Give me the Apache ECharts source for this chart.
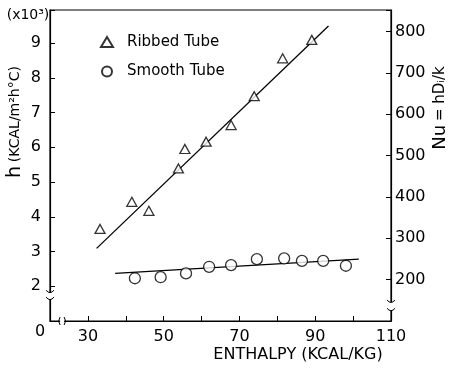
<!DOCTYPE html>
<html>
<head>
<meta charset="utf-8">
<script src="https://cdn.jsdelivr.net/npm/echarts@6/dist/echarts.min.js"></script>
<style>
  html, body { margin: 0; padding: 0; background: #fff; }
  #main { width: 452px; height: 374px; }
</style>
</head>
<body>
<div id="main"></div>
<script>
// values
const ribbedEnthalpy = [33.2, 41.6, 46.1, 53.9, 55.6, 61.2, 67.8, 73.9, 81.4, 89.1];
const ribbedH = [3.65, 4.43, 4.17, 5.39, 5.95, 6.16, 6.64, 7.47, 8.56, 9.09];
const smoothEnthalpy = [42.4, 49.2, 55.9, 62.0, 67.8, 74.6, 81.8, 86.5, 92.1, 98.1];
const smoothH = [2.23, 2.26, 2.37, 2.56, 2.61, 2.78, 2.80, 2.73, 2.73, 2.59];
// hand-drawn fit lines (end points)
const ribbedFitX = [32.3, 93.5];
const ribbedFitH = [3.09, 9.49];
const smoothFitX = [37.2, 101.5];
const smoothFitH = [2.37, 2.78];
// tick labels
const xTickLabels = [30, 50, 70, 90, 110];
const hTickLabels = [2, 3, 4, 5, 6, 7, 8, 9];
const nuTickLabels = [200, 300, 400, 500, 600, 700, 800];

const FONT = "DejaVu Sans";
const pairs = (xs, ys) => xs.map((x, i) => [x, ys[i]]);

const chart = echarts.init(document.getElementById("main"));

const option = {
  backgroundColor: "#fff",
  animation: false,
  textStyle: { fontFamily: FONT, color: "#000" },
  grid: {
    left: 50, right: 61, top: 10, bottom: 53,
    show: true, borderColor: "#000", borderWidth: 1.2,
  },
  legend: {
    data: ["Ribbed Tube", "Smooth Tube"],
    orient: "vertical",
    left: 100, top: 34,
    padding: 0,
    itemWidth: 12, itemHeight: 10, itemGap: 13.5,
    textStyle: { fontSize: 15, lineHeight: 16, color: "#000", padding: [0, 0, 0, 9] },
  },
  xAxis: {
    type: "value",
    min: 20, max: 110, interval: 10,
    axisLine: { lineStyle: { color: "#000", width: 1.2 } },
    axisTick: { inside: true, length: 5, lineStyle: { color: "#000" } },
    axisLabel: {
      margin: 8, fontSize: 16, color: "#000",
      formatter: (v) => (xTickLabels.includes(v) ? String(v) : ""),
    },
    splitLine: { show: false },
  },
  yAxis: [
    {
      type: "value",
      min: 1, max: 9.95, interval: 1,
      axisLine: { show: true, lineStyle: { color: "#000", width: 1.2 } },
      axisTick: { show: true, inside: true, length: 5, lineStyle: { color: "#000" } },
      axisLabel: {
        margin: 9, fontSize: 16, color: "#000",
        formatter: (v) => (hTickLabels.includes(v) ? String(v) : ""),
      },
      splitLine: { show: false },
    },
    {
      type: "value",
      position: "right",
      min: 100, max: 852, interval: 100,
      axisLine: { show: true, lineStyle: { color: "#000", width: 1.2 } },
      axisTick: { show: true, inside: true, length: 5, lineStyle: { color: "#000" } },
      axisLabel: {
        margin: 4, fontSize: 16, color: "#000",
        formatter: (v) => (nuTickLabels.includes(v) ? String(v) : ""),
      },
      splitLine: { show: false },
    },
  ],
  series: [
    {
      type: "line",
      data: pairs(ribbedFitX, ribbedFitH),
      showSymbol: false,
      lineStyle: { color: "#000", width: 1.3 },
      silent: true,
    },
    {
      type: "line",
      data: pairs(smoothFitX, smoothFitH),
      showSymbol: false,
      lineStyle: { color: "#000", width: 1.3 },
      silent: true,
    },
    {
      name: "Ribbed Tube",
      type: "scatter",
      data: pairs(ribbedEnthalpy, ribbedH),
      symbol: "triangle",
      symbolSize: [10, 9],
      itemStyle: { color: "#fff", borderColor: "#000", borderWidth: 1.3 },
      z: 3,
    },
    {
      name: "Smooth Tube",
      type: "scatter",
      data: pairs(smoothEnthalpy, smoothH),
      symbol: "circle",
      symbolSize: 11,
      itemStyle: { color: "#fff", borderColor: "#000", borderWidth: 1.3 },
      z: 3,
    },
  ],
};

chart.setOption(option);

// axis breaks, origin label and axis titles
const xPx = (v) => chart.convertToPixel({ xAxisIndex: 0 }, v);
const hPx = (v) => chart.convertToPixel({ yAxisIndex: 0 }, v);
const nuPx = (v) => chart.convertToPixel({ yAxisIndex: 1 }, v);

const leftX = xPx(20), rightX = xPx(110), baseY = hPx(1);
const curve = (x1, y1, cx, cy, x2, y2) => ({
  type: "bezierCurve",
  shape: { x1, y1, cpx1: cx, cpy1: cy, x2, y2 },
  style: { stroke: "#000", fill: null, lineWidth: 1 },
  z: 10,
});
const blank = (x, y, w, h) => ({
  type: "rect", shape: { x, y, width: w, height: h },
  style: { fill: "#fff" }, z: 9,
});

const xb = xPx(23.2);
const lT = hPx(1.83), lB = hPx(1.63);
const rT = nuPx(146), rB = nuPx(126);

chart.setOption({
  graphic: [
    // x axis break
    blank(xb - 2, baseY - 3, 4, 6),
    curve(xb - 2, baseY - 4, xb - 5, baseY, xb - 2, baseY + 4),
    curve(xb + 2, baseY - 4, xb + 5, baseY, xb + 2, baseY + 4),
    // left axis break
    blank(leftX - 3, lT, 6, lB - lT),
    curve(leftX - 4, lT - 2, leftX, lT + 3, leftX + 4, lT - 2),
    curve(leftX - 4, lB - 2, leftX, lB + 3, leftX + 4, lB - 2),
    // right axis break
    blank(rightX - 3, rT, 6, rB - rT),
    curve(rightX - 4, rT - 2, rightX, rT + 3, rightX + 4, rT - 2),
    curve(rightX - 4, rB - 2, rightX, rB + 3, rightX + 4, rB - 2),
    // origin "0"
    {
      type: "text", x: leftX - 10, y: baseY + 11,
      style: { text: "0", fontSize: 16, fontFamily: FONT, fill: "#000", align: "center", verticalAlign: "middle" },
    },
    // multiplier
    {
      type: "text", x: 28, y: 15,
      style: { text: "(x10³)", fontSize: 14, fontFamily: FONT, fill: "#000", align: "center", verticalAlign: "middle" },
    },
    // left axis title
    {
      type: "text", x: 15, y: 122, rotation: Math.PI / 2,
      style: {
        text: "{a|h} {b|(KCAL/m²h°C)}",
        fontFamily: FONT, fill: "#000", align: "center", verticalAlign: "middle",
        rich: { a: { fontSize: 19, fontFamily: FONT }, b: { fontSize: 14, fontFamily: FONT } },
      },
    },
    // right axis title
    {
      type: "text", x: 440, y: 108, rotation: Math.PI / 2,
      style: {
        text: "{a|Nu} {b|= hDᵢ/k}",
        fontFamily: FONT, fill: "#000", align: "center", verticalAlign: "middle",
        rich: { a: { fontSize: 18, fontFamily: FONT }, b: { fontSize: 15, fontFamily: FONT } },
      },
    },
    // x axis title
    {
      type: "text", x: 298, y: 355,
      style: { text: "ENTHALPY (KCAL/KG)", fontSize: 16, fontFamily: FONT, fill: "#000", align: "center", verticalAlign: "middle" },
    },
  ],
});
</script>
</body>
</html>
